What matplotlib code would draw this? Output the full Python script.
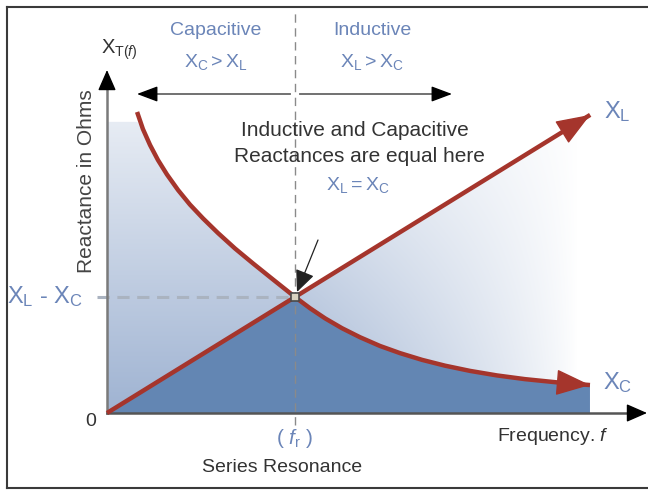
import numpy as np
import matplotlib.pyplot as plt
from matplotlib.patches import Polygon
from matplotlib.lines import Line2D
from matplotlib.colors import to_rgb

plt.rcParams['font.family'] = ['Liberation Sans', 'DejaVu Sans']
plt.rcParams['mathtext.fontset'] = 'custom'
plt.rcParams['mathtext.rm'] = 'Liberation Sans'
plt.rcParams['mathtext.it'] = 'Liberation Sans:italic'
plt.rcParams['mathtext.default'] = 'regular'

# frequency in units of fr, reactance in units of the value at resonance
xc_freq = [0.160, 0.191, 0.229, 0.271, 0.319, 0.378, 0.441, 0.511, 0.590,
           0.681, 0.777, 0.883, 1.000, 1.080, 1.160, 1.250, 1.346, 1.452,
           1.559, 1.676, 1.798, 1.931, 2.074, 2.223, 2.394, 2.569]
xc_vals = [2.595, 2.448, 2.310, 2.181, 2.056, 1.922, 1.797, 1.677, 1.552,
           1.418, 1.289, 1.151, 1.000, 0.903, 0.816, 0.731, 0.653, 0.578,
           0.516, 0.458, 0.408, 0.363, 0.324, 0.292, 0.264, 0.241]
xl_freq = [0.0, 0.5, 1.0, 1.5, 2.0, 2.57]
xl_vals = [0.0, 0.5, 1.0, 1.5, 2.0, 2.57]
res_freq = 1.0
res_val = 1.0
shade_top = 2.51

RED = '#a5352c'
BLUE_TXT = '#6b85b8'
DARK_TXT = '#333333'
DARK_FILL = '#6386b3'
LIGHT_FILL = '#9fb3d2'

W, H = 648, 490
X0, Y0 = 107, 413   # pixel position of the origin
SX, SY = 188, 116   # pixels per unit


def px(x, y):
    return (x - X0) / SX, (Y0 - y) / SY


def head(ax, tip, tail, color, size, style, lw=1.0, z=6):
    ax.annotate('', xy=tip, xytext=tail,
                arrowprops=dict(arrowstyle=style, color=color, lw=lw,
                                mutation_scale=size, shrinkA=0, shrinkB=0),
                zorder=z)


fig = plt.figure(figsize=(W / 100, H / 100), dpi=100)
ax = fig.add_axes([0, 0, 1, 1])
ax.set_axis_off()

# light shaded area under the curves
light = [(0, 0), (0, shade_top)]
light += [(f, min(v, shade_top)) for f, v in zip(xc_freq, xc_vals) if f <= res_freq]
light += [(f, v) for f, v in zip(xl_freq, xl_vals) if f > res_freq]
light += [(xl_freq[-1], 0)]

gx = np.linspace(0, 2.6, 400)
gy = np.linspace(0, 2.6, 300)
GX, GY = np.meshgrid(gx, gy)
vert = 1 - 0.75 * GY / shade_top
horiz = np.clip((2.5 - GX) / 1.5, 0, 1) ** 0.8
w = np.clip(vert * horiz, 0, 1)
blue = np.array(to_rgb(LIGHT_FILL))
img = 1 - w[..., None] * (1 - blue)
im = ax.imshow(img, extent=(0, 2.6, 0, 2.6), origin='lower', aspect='auto',
               interpolation='bilinear', zorder=1)
clip = Polygon(light, closed=True, facecolor='none', edgecolor='none')
ax.add_patch(clip)
im.set_clip_path(clip)

# dark area under both curves
dark = [(f, v) for f, v in zip(xl_freq, xl_vals) if f <= res_freq]
dark += [(f, v) for f, v in zip(xc_freq, xc_vals) if f > res_freq]
dark += [(xc_freq[-1], 0)]
ax.add_patch(Polygon(dark, closed=True, facecolor=DARK_FILL, edgecolor='none', zorder=2))

# dashed guide lines
ax.plot([res_freq, res_freq], [px(0, 425)[1], px(0, 10)[1]], color='#8a8a8a',
        lw=1.0, dashes=(6, 4), zorder=3)
ax.plot([px(97, 0)[0], res_freq], [res_val, res_val], color='#aab3c0',
        lw=2.2, dashes=(4, 2.5), zorder=3)

# axes
ax.plot([0, 0], [0, px(0, 78)[1]], color='#7a7a7a', lw=1.8, zorder=4)
head(ax, px(107, 70), px(107, 84), 'black', 16, '-|>,head_length=0.8,head_width=0.35')
ax.plot([0, px(635, 0)[0]], [0, 0], color='#555555', lw=1.8, zorder=4)
head(ax, px(647, 413), px(633, 413), 'black', 16, '-|>,head_length=0.8,head_width=0.35')

# top region arrows
ax.plot([px(290, 0)[0], px(146, 0)[0]], [px(0, 94)[1]] * 2, color='#666666', lw=1.3, zorder=4)
head(ax, px(137, 94), px(150, 94), 'black', 16, '-|>,head_length=0.8,head_width=0.3')
ax.plot([px(300, 0)[0], px(443, 0)[0]], [px(0, 94)[1]] * 2, color='#666666', lw=1.3, zorder=4)
head(ax, px(452, 94), px(439, 94), 'black', 16, '-|>,head_length=0.8,head_width=0.3')

# reactance curves
ax.plot(xl_freq, xl_vals, color=RED, lw=3.2, solid_capstyle='butt', zorder=5)
ax.plot(xc_freq, xc_vals, color=RED, lw=3.2, solid_capstyle='butt',
        solid_joinstyle='round', zorder=5)
head(ax, (xl_freq[-1], xl_vals[-1]), (xl_freq[-2], xl_vals[-2]), RED, 20,
     '-|>,head_length=1.1,head_width=0.42')
head(ax, (xc_freq[-1], xc_vals[-1]), (xc_freq[-2], xc_vals[-2]), RED, 20,
     '-|>,head_length=1.1,head_width=0.42')

ax.plot(res_freq, res_val, marker='s', ms=5.5, mfc='#d8d2c0', mec='#4a4a4a',
        mew=1.2, zorder=7)

# pointer to the resonance point
head(ax, px(297, 292), px(318, 240), '#222222', 15,
     '-|>,head_length=0.9,head_width=0.4', lw=0.9, z=7)

# labels
ax.text(*px(216, 30), 'Capacitive', color=BLUE_TXT, fontsize=14, ha='center', va='center')
ax.text(*px(216, 62), r'$X_C > X_L$', color=BLUE_TXT, fontsize=14, ha='center', va='center')
ax.text(*px(372, 30), 'Inductive', color=BLUE_TXT, fontsize=14, ha='center', va='center')
ax.text(*px(372, 62), r'$X_L > X_C$', color=BLUE_TXT, fontsize=14, ha='center', va='center')
ax.text(*px(119, 50), r'$X_{T(\mathit{f})}$', color=DARK_TXT, fontsize=14.5, ha='center', va='center')
ax.text(*px(86, 181), 'Reactance in Ohms', color='#444444', fontsize=15,
        rotation=90, ha='center', va='center')
ax.text(*px(355, 130), 'Inductive and Capacitive', color=DARK_TXT, fontsize=15,
        ha='center', va='center')
ax.text(*px(359, 156), 'Reactances are equal here', color=DARK_TXT, fontsize=15,
        ha='center', va='center')
ax.text(*px(358, 185), r'$X_L = X_C$', color=BLUE_TXT, fontsize=14, ha='center', va='center')
ax.text(*px(45, 297), r'$X_L$ - $X_C$', color=BLUE_TXT, fontsize=17, ha='center', va='center')
ax.text(*px(617, 112), r'$X_L$', color=BLUE_TXT, fontsize=17, ha='center', va='center')
ax.text(*px(618, 383), r'$X_C$', color=BLUE_TXT, fontsize=17, ha='center', va='center')
ax.text(*px(91, 421), '0', color=DARK_TXT, fontsize=14, ha='center', va='center')
ax.text(*px(295, 438), r'$(\ \mathit{f}_{r}\ )$', color=BLUE_TXT, fontsize=15,
        ha='center', va='center')
ax.text(*px(282, 467), 'Series Resonance', color=DARK_TXT, fontsize=14, ha='center', va='center')
ax.text(*px(553, 436), r'Frequency. $\mathit{f}$', color=DARK_TXT, fontsize=14,
        ha='center', va='center')

ax.set_xlim(px(0, 0)[0], px(W, 0)[0])
ax.set_ylim(px(0, H)[1], px(0, 0)[1])

# frame around the picture
for xs, ys in [([7, W], [7, 7]), ([7, 7], [7, 488]), ([7, W], [488, 488])]:
    fig.add_artist(Line2D([x / W for x in xs], [1 - y / H for y in ys],
                          color='#3a3a3a', lw=1.5))

fig.savefig('out.png', dpi=100)
